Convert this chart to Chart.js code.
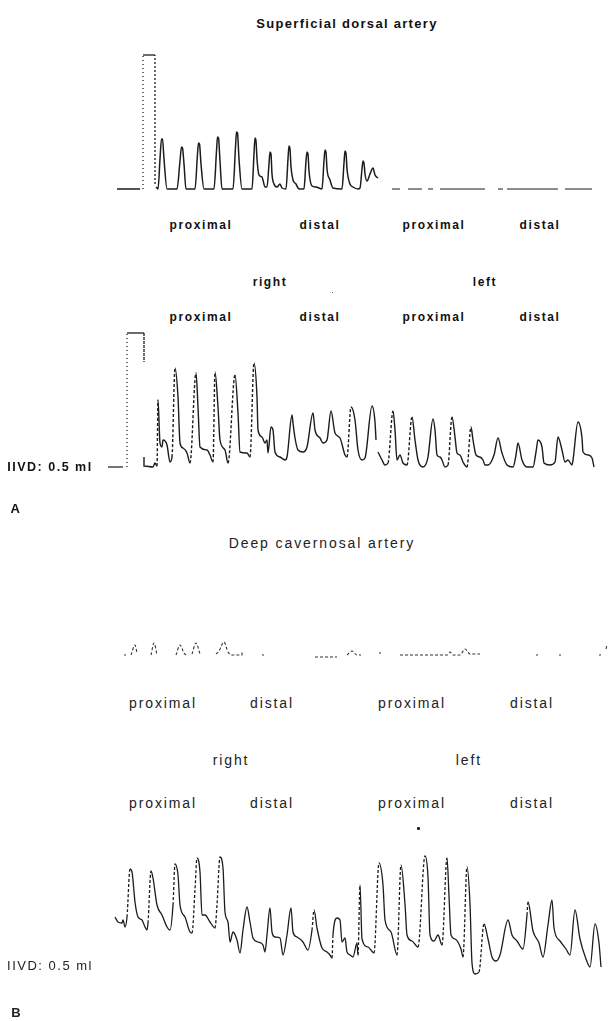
<!DOCTYPE html>
<html>
<head>
<meta charset="utf-8">
<script src="https://cdn.jsdelivr.net/npm/chart.js@4/dist/chart.umd.min.js"></script>
<style>
  body { margin: 0; background: #fff; }
  #page { position: relative; width: 610px; height: 1021px; overflow: hidden; font-family: "Liberation Sans", Arial, sans-serif; color: #111; }
  canvas { position: absolute; left: 0; }
  .t { position: absolute; transform: translate(-50%, -50%); white-space: nowrap; }
  .a { font-size: 12px; font-weight: bold; letter-spacing: 1.6px; }
  .b { font-size: 14px; letter-spacing: 1.9px; color: #222; }
  .dot { position: absolute; width: 2px; height: 2px; background: #222; border-radius: 1px; }
</style>
</head>
<body>
<div id="page">
  <div class="t a" style="left:347px;top:23px;font-size:13px;letter-spacing:1.3px">Superficial dorsal artery</div>
  <canvas id="c1" width="610" height="160" style="top:40px"></canvas>

  <div class="t a" style="left:201px;top:225px">proximal</div>
  <div class="t a" style="left:320px;top:225px">distal</div>
  <div class="t a" style="left:434px;top:225px">proximal</div>
  <div class="t a" style="left:540px;top:225px">distal</div>
  <div class="t a" style="left:270px;top:282px">right</div>
  <div class="t a" style="left:485px;top:282px">left</div>
  <div class="dot" style="left:332px;top:292px;width:1px;height:1px"></div>
  <div class="t a" style="left:201px;top:317px">proximal</div>
  <div class="t a" style="left:320px;top:317px">distal</div>
  <div class="t a" style="left:434px;top:317px">proximal</div>
  <div class="t a" style="left:540px;top:317px">distal</div>

  <canvas id="c2" width="610" height="150" style="top:325px"></canvas>
  <div class="t a" style="left:50px;top:467px;font-size:12.5px;letter-spacing:1.5px">IIVD: 0.5 ml</div>
  <div class="t a" style="left:16px;top:508px;font-size:13px">A</div>

  <div class="t b" style="left:322px;top:543px">Deep cavernosal artery</div>
  <canvas id="c3" width="610" height="40" style="top:630px"></canvas>

  <div class="t b" style="left:163px;top:703px">proximal</div>
  <div class="t b" style="left:272px;top:703px">distal</div>
  <div class="t b" style="left:412px;top:703px">proximal</div>
  <div class="t b" style="left:532px;top:703px">distal</div>
  <div class="t b" style="left:231px;top:760px">right</div>
  <div class="t b" style="left:469px;top:760px">left</div>
  <div class="t b" style="left:163px;top:803px">proximal</div>
  <div class="t b" style="left:272px;top:803px">distal</div>
  <div class="t b" style="left:412px;top:803px">proximal</div>
  <div class="t b" style="left:532px;top:803px">distal</div>
  <div class="dot" style="left:417px;top:827px;width:3px;height:3px"></div>

  <canvas id="c4" width="610" height="130" style="top:850px"></canvas>
  <div class="t b" style="left:50px;top:965px;font-size:13px;letter-spacing:1.5px">IIVD: 0.5 ml</div>
  <div class="t b" style="left:17px;top:1012px;font-weight:bold;font-size:13px">B</div>
</div>
<script>
// Superficial dorsal artery, right side (time, amplitude); null = pen lift
const dorsalRightT = [117, 140, null, 156, 158, 160, 161.5, 162.5, 164, 167, 177, 180, 181.5, 182.5, 184, 186, 195, 197.5, 198.5, 199.5, 201, 204,
  214, 216.5, 217.5, 218.5, 220, 222, 233, 235.5, 236.5, 237.5, 239, 242, 252, 254, 255, 256, 257, 259, 262, 265, 267, 269, 270, 271, 272, 274, 277, 280, 282,
  286, 288, 289, 290, 291, 293, 296, 298, 300, 304, 306, 307, 308, 309, 312, 316, 322, 324, 325, 326, 327, 330, 333, 342, 344, 345, 346, 347, 350, 353, 358,
  360, 362, 363, 364, 365, 367, 370, 373, 375, 378];
const dorsalRightV = [0, 0, null, 2, 0, 30, 50, 50, 30, 0, 0, 28, 42, 41, 25, 0, 0, 35, 46, 45, 25, 0,
  0, 38, 52, 51, 28, 0, 0, 42, 57, 56, 30, 0, 0, 35, 51, 48, 30, 14, 12, 2, 2, 25, 37, 35, 15, 5, 2, 5, 1,
  0, 30, 43, 40, 22, 9, 5, 1, 0, 0, 28, 37, 35, 18, 3, 2, 0, 28, 39, 37, 20, 9, 1, 0, 26, 38, 36, 20, 5, 2, 0,
  1, 20, 28, 26, 15, 8, 15, 21, 14, 11];
// left side: flat, broken trace
const dorsalLeftT = [392, 400, null, 408, 422, null, 428, 433, null, 440, 485, null, 498, 503, null, 507, 558, null, 565, 592];
const dorsalLeftV = [0, 0, null, 0, 0, null, 0, 0, null, 0, 0, null, 0, 0, null, 0, 0, null, 0, 0];
const dorsalCalT = [143, 143, 155, 155];
const dorsalCalV = [0, 134, 134, 4];

// Superficial dorsal artery after IIVD 0.5 ml
const dorsalIivdT = [144, 144, 153, 155, 157, 158, 160, 162, 163, 167, 170, 172, 175, 178, 180, 183, 187, 190, 196, 198,
  200, 207, 210, 213, 215, 218, 220, 225, 228, 235, 238, 240, 247, 250, 254, 257, 258, 262, 265, 267, 268, 271, 273, 275,
  280, 285, 287, 292, 293, 295, 298, 303, 307, 313, 315, 320, 323, 327, 331, 335, 340, 345, 347, 351, 355, 358, 362, 365,
  372, 375, 376, null, 378, 382, 385, 388, 393, 395, 397, 400, 403, 407, 412, 415, 418, 423, 426, 428, 433, 435, 437, 440,
  442, 445, 448, 452, 455, 457, 460, 463, 467, 471, 473, 476, 480, 483, 485, 488, 494, 498, 502, 507, 513, 516, 518, 522,
  527, 533, 536, 538, 542, 544, 550, 555, 558, 562, 565, 568, 572, 573, 578, 582, 583, 588, 592, 594];
const dorsalIivdV = [10, 1, 0, 4, 1, 67, 24, 20, 27, 22, 5, 10, 99, 70, 24, 19, 14, 4, 94, 60,
  20, 17, 12, 5, 95, 60, 27, 17, 4, 92, 54, 15, 14, 10, 104, 70, 37, 30, 24, 27, 14, 40, 37, 15,
  10, 7, 10, 52, 44, 29, 17, 15, 20, 54, 37, 29, 24, 27, 56, 34, 29, 12, 10, 60, 47, 17, 7, 9,
  61, 45, 27, null, 15, 7, 2, 4, 56, 37, 7, 12, 4, 2, 50, 27, 7, 0, 3, 10, 48, 37, 12, 10,
  7, 0, 2, 50, 30, 14, 12, 5, 0, 40, 27, 12, 10, 7, 2, 2, 12, 29, 14, 2, 0, 12, 24, 7,
  0, 0, 15, 27, 20, 4, 2, 5, 30, 17, 5, 7, 2, 7, 45, 29, 15, 12, 9, 0];
const dorsalIivdCalT = [127, 127, 144, 144];
const dorsalIivdCalV = [0, 134, 134, 105];
const dashT = [108, 123];
const dashV = [0, 0];

// Deep cavernosal artery, before IIVD
const cavT = [124, 126, null, 131, 135, 137, null, 151, 154, 157, null, 176, 180, 184, 186, null, 192, 196, 200, null,
  216, 219, 224, 228, 232, 242, 242, null, 262, 264, null, 315, 337, null, 347, 352, 357, 361, null, 379, 381, null,
  400, 447, 450, 453, 460, 465, 470, 480, null, 536, 538, null, 559, 561, null, 599, 601, null, 606, 607];
const cavV = [0, 0, null, 0, 10, 2, null, 0, 12, 0, null, 0, 10, 2, 0, null, 1, 12, 1, null,
  1, 4, 13, 3, 0, 0, 3, null, 0, 0, null, -2, -2, null, 0, 4, 0, 0, null, 2, 2, null,
  0, 0, 3, 0, 0, 6, 1, 1, null, 0, 0, null, 0, 0, null, 0, 0, null, 6, 10];

// Deep cavernosal artery after IIVD 0.5 ml
const cavIivdT = [115, 118, 122, 123, 125, 127, 130, 132, 135, 138, 142, 145, 147, 148, 151, 153, 157, 162, 167, 170,
  173, 175, 178, 180, 185, 190, 192, 195, 197, 200, 202, 205, 210, 215, 217, 220, 223, 225, 228, 230, 233, 237, 240, 243,
  247, 250, 253, 258, 263, 265, 267, 270, 272, 275, 280, 283, 287, 291, 293, 297, 303, 308, 312, 314, 317, 322, 327, 330,
  332, 333, 337, 340, 342, 345, 347, 350, 353, 357, 358, 360, 362, 368, 374, 379, 383, 385, 391, 397, 401, 405, 407, 412,
  418, 425, 428, 430, 434, 438, 442, 447, 449, 451, 455, 461, 463, 467, 470, 472, 475, 479, 484, 488, 492, 496, 500, 508,
  512, 517, 523, 527, 528, 533, 539, 543, 548, 552, 554, 560, 566, 570, 575, 580, 586, 590, 595, 599, 601];
const cavIivdV = [48, 43, 42, 45, 38, 48, 96, 93, 63, 48, 45, 38, 35, 42, 94, 87, 60, 50, 38, 35,
  60, 101, 90, 60, 48, 33, 32, 75, 107, 93, 50, 50, 43, 37, 60, 108, 97, 53, 43, 23, 33, 25, 12, 35,
  58, 43, 27, 23, 20, 13, 30, 57, 33, 28, 27, 10, 30, 57, 33, 28, 23, 15, 35, 55, 37, 17, 13, 10,
  7, 30, 47, 45, 23, 27, 13, 10, 8, 22, 10, 80, 26, 18, 12, 102, 80, 45, 33, 10, 100, 61, 30, 24,
  18, 109, 88, 30, 24, 30, 20, 107, 69, 30, 26, 16, 8, 98, 61, 2, -9, -7, 41, 26, 8, 4, 10, 45,
  30, 24, 16, 50, 63, 34, 22, 8, 40, 65, 37, 24, 16, 10, 55, 26, 6, -2, 41, 22, -2];

function pts(t, v) {
  return t.map((x, i) => x === null ? { x: NaN, y: null } : { x: x, y: v[i] });
}

const ink = '#1c1c1c';
const steepDash = ctx => {
  const dx = ctx.p1.parsed.x - ctx.p0.parsed.x;
  const dy = ctx.p1.parsed.y - ctx.p0.parsed.y;
  return dy / dx > 9 ? [3, 2] : undefined;
};
const sideDot = ctx => ctx.p0.parsed.x === ctx.p1.parsed.x ? [1, 3] : undefined;

function trace(data, opts) {
  return Object.assign({
    data: data, borderColor: ink, borderWidth: 1.4, pointRadius: 0,
    spanGaps: false, cubicInterpolationMode: 'monotone', fill: false
  }, opts || {});
}

function makeChart(id, yMin, yMax, datasets) {
  return new Chart(document.getElementById(id), {
    type: 'line',
    data: { datasets: datasets },
    options: {
      responsive: false, animation: false, devicePixelRatio: 1,
      layout: { padding: 0 },
      plugins: { legend: { display: false }, tooltip: { enabled: false } },
      scales: {
        x: { type: 'linear', min: 0, max: 610, display: false },
        y: { min: yMin, max: yMax, display: false }
      }
    }
  });
}

makeChart('c1', -11, 149, [
  trace(pts(dorsalRightT, dorsalRightV), { borderWidth: 1.5 }),
  trace(pts(dorsalLeftT, dorsalLeftV), { borderWidth: 1.2, cubicInterpolationMode: 'default' }),
  trace(pts(dorsalCalT, dorsalCalV), { cubicInterpolationMode: 'default', borderWidth: 1.3, segment: { borderDash: sideDot } })
]);

makeChart('c2', -8, 142, [
  trace(pts(dorsalIivdT, dorsalIivdV), { segment: { borderDash: steepDash } }),
  trace(pts(dorsalIivdCalT, dorsalIivdCalV), { cubicInterpolationMode: 'default', borderWidth: 1.3, segment: { borderDash: sideDot } }),
  trace(pts(dashT, dashV), { borderWidth: 1.2, cubicInterpolationMode: 'default' })
]);

makeChart('c3', -15, 25, [
  trace(pts(cavT, cavV), { borderWidth: 1.1, borderColor: '#333', borderDash: [3, 2] })
]);

makeChart('c4', -15, 115, [
  trace(pts(cavIivdT, cavIivdV), { borderWidth: 1.3, segment: { borderDash: steepDash } })
]);
</script>
</body>
</html>
